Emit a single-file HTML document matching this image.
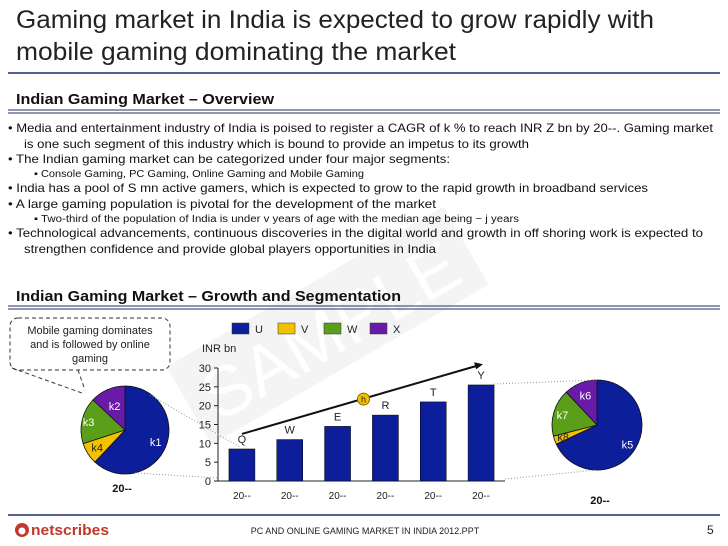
<!DOCTYPE html>
<html><head><meta charset="utf-8"><style>
body{margin:0;background:#fff}
svg{display:block;font-family:"Liberation Sans",sans-serif}
</style></head><body>
<svg width="728" height="546" viewBox="0 0 728 546">
<g transform="translate(330,330) rotate(-30)" opacity="0.06">
<rect x="-160" y="-50" width="320" height="90" fill="#555"/>
<text x="0" y="25" text-anchor="middle" font-size="70" fill="#fff">SAMPLE</text>
</g>
<text x="16" y="28" font-size="25" fill="#222" textLength="638" lengthAdjust="spacingAndGlyphs">Gaming market in India is expected to grow rapidly with</text>
<text x="16" y="60" font-size="25" fill="#222" textLength="440" lengthAdjust="spacingAndGlyphs">mobile gaming dominating the market</text>
<line x1="8" y1="73" x2="720" y2="73" stroke="#1f2f6b" stroke-width="1.5"/>
<text x="16" y="104" font-size="15" font-weight="bold" fill="#111" textLength="258" lengthAdjust="spacingAndGlyphs">Indian Gaming Market – Overview</text>
<line x1="8" y1="110" x2="720" y2="110" stroke="#1f2f6b" stroke-width="1"/>
<line x1="8" y1="113" x2="720" y2="113" stroke="#1f2f6b" stroke-width="1"/>
<g font-size="12" fill="#111">
<text x="8" y="132" textLength="705" lengthAdjust="spacingAndGlyphs">• Media and entertainment industry of India is poised to register a CAGR of k % to reach INR Z bn by 20--. Gaming market</text>
<text x="24" y="148" textLength="505" lengthAdjust="spacingAndGlyphs">is one such segment of this industry which is bound to provide an impetus to its growth</text>
<text x="8" y="163" textLength="442" lengthAdjust="spacingAndGlyphs">• The Indian gaming market can be categorized under four major segments:</text>
<text x="34" y="177" font-size="10" textLength="330" lengthAdjust="spacingAndGlyphs">▪ Console Gaming, PC Gaming, Online Gaming and Mobile Gaming</text>
<text x="8" y="192" textLength="640" lengthAdjust="spacingAndGlyphs">• India has a pool of S mn active gamers, which is expected to grow to the rapid growth in broadband services</text>
<text x="8" y="208" textLength="428" lengthAdjust="spacingAndGlyphs">• A large gaming population is pivotal for the development of the market</text>
<text x="34" y="222" font-size="10" textLength="485" lengthAdjust="spacingAndGlyphs">▪ Two-third of the population of India is under  v years of age with the median age being ~ j  years</text>
<text x="8" y="237" textLength="695" lengthAdjust="spacingAndGlyphs">• Technological advancements, continuous discoveries in the digital world and growth in off shoring work is expected to</text>
<text x="24" y="253" textLength="412" lengthAdjust="spacingAndGlyphs">strengthen confidence and provide global players opportunities in India</text>
</g>
<text x="16" y="301" font-size="15" font-weight="bold" fill="#111" textLength="385" lengthAdjust="spacingAndGlyphs">Indian Gaming Market – Growth and Segmentation</text>
<line x1="8" y1="306" x2="720" y2="306" stroke="#1f2f6b" stroke-width="1"/>
<line x1="8" y1="309" x2="720" y2="309" stroke="#1f2f6b" stroke-width="1"/>
<g>
<rect x="10" y="318" width="160" height="52" rx="8" fill="#fff" stroke="#333" stroke-dasharray="4,3"/>
<path d="M12 368 L82 393 M78 370 L85 390" stroke="#333" stroke-dasharray="4,3" fill="none"/>
<text x="90" y="334" font-size="11" text-anchor="middle" fill="#222">Mobile gaming dominates</text>
<text x="90" y="348" font-size="11" text-anchor="middle" fill="#222">and is followed by online</text>
<text x="90" y="362" font-size="11" text-anchor="middle" fill="#222">gaming</text>
</g>
<g id="legend" font-size="11" fill="#222"></g>
<g id="chart"></g>
<g id="pies"></g>
<line x1="8" y1="515" x2="720" y2="515" stroke="#1f2f6b" stroke-width="1.5"/>
<g>
<circle cx="22" cy="530" r="7" fill="#c0392b"/><circle cx="22" cy="531" r="3.5" fill="#fff"/>
<text x="31" y="535" font-size="15" font-weight="bold" fill="#c0392b" textLength="78" lengthAdjust="spacingAndGlyphs">netscribes</text>
</g>
<text x="365" y="534" font-size="9" text-anchor="middle" fill="#222">PC AND ONLINE GAMING MARKET IN INDIA 2012.PPT</text>
<text x="707" y="534" font-size="12" fill="#222">5</text>
</svg>
<script>
const categories = ["20--","20--","20--","20--","20--","20--"];
const barLabels = ["Q","W","E","R","T","Y"];
const values = [8.5, 11, 14.5, 17.5, 21, 25.5];
const yTicks = [0,5,10,15,20,25,30];
const legendLabels = ["U","V","W","X"];
const pieLeft = [62, 8, 17, 13];
const pieLeftLabels = ["k1","k4","k3","k2"];
const pieRight = [68, 3, 17, 12];
const pieRightLabels = ["k5","k8","k7","k6"];
const colors = ["#0d1e9a","#f2c200","#5a9e1a","#6a1aa8"];
const NS="http://www.w3.org/2000/svg";
function mk(t,a,p){const e=document.createElementNS(NS,t);for(const k in a)e.setAttribute(k,a[k]);p.appendChild(e);return e;}
const chart=document.getElementById('chart');
const x0=218,x1=505,yb=481,yt=368,ymax=30;
const y=v=>yb-(v/ymax)*(yb-yt);
const step=(x1-x0)/categories.length;
const xc=i=>x0+step*(i+0.5);
mk('line',{x1:x0,y1:yt,x2:x0,y2:yb,stroke:'#222'},chart);
mk('line',{x1:x0,y1:yb,x2:x1,y2:yb,stroke:'#222'},chart);
const t=mk('text',{x:202,y:352,'font-size':11,fill:'#222'},chart);t.textContent='INR bn';
yTicks.forEach(v=>{
  mk('line',{x1:x0-4,y1:y(v),x2:x0,y2:y(v),stroke:'#222'},chart);
  const tx=mk('text',{x:x0-7,y:y(v)+4,'font-size':11,'text-anchor':'end',fill:'#222'},chart);
  
  
  tx.textContent=v;
});
values.forEach((v,i)=>{
  const r=mk('rect',{x:xc(i)-13,y:y(v),width:26,height:yb-y(v),fill:colors[0],stroke:'#000','stroke-width':0.5},chart);
  
  
  const lb=mk('text',{x:xc(i),y:y(v)-6,'font-size':11,'text-anchor':'middle',fill:'#222'},chart);
  
  
  lb.textContent=barLabels[i];
  const c=mk('text',{x:xc(i),y:499,'font-size':10,'text-anchor':'middle',fill:'#222'},chart);
  
  
  c.textContent=categories[i];
});
const ax1=xc(0),ay1=y(values[0]+4),ax2=xc(values.length-1)+2,ay2=y(values[values.length-1]+5.5);
const ar=mk('line',{x1:ax1,y1:ay1,x2:ax2-6,y2:ay2+1.5,stroke:'#111','stroke-width':2},chart);


mk('polygon',{points:`${ax2},${ay2} ${ax2-9},${ay2-2} ${ax2-7},${ay2+5}`,fill:'#111'},chart);
const hx=(ax1+ax2)/2+1,hy=(ay1+ay2)/2;
const hc=mk('circle',{cx:hx,cy:hy,r:6,fill:'#f2c200',stroke:'#8a6a00'},chart);


const ht=mk('text',{x:hx,y:hy+3.5,'font-size':9,'text-anchor':'middle',fill:'#222'},chart);ht.textContent='h';
const lg=document.getElementById('legend');
legendLabels.forEach((s,i)=>{
  const lx=232+i*46;
  const r=mk('rect',{x:lx,y:323,width:17,height:11,fill:colors[i],stroke:'#333','stroke-width':0.5},lg);
  
  
  const tx=mk('text',{x:lx+23,y:333},lg);tx.textContent=s;
});
const pies=document.getElementById('pies');
function pie(cx,cy,r,vals,labels,name,labelPos){
  const g=mk('g',{},pies);
  
  
  const tot=vals.reduce((a,b)=>a+b,0);let a=0;
  vals.forEach((v,i)=>{
    const a0=a/tot*2*Math.PI,a1=(a+v)/tot*2*Math.PI;a+=v;
    const p0=[cx+r*Math.sin(a0),cy-r*Math.cos(a0)],p1=[cx+r*Math.sin(a1),cy-r*Math.cos(a1)];
    const large=(a1-a0)>Math.PI?1:0;
    const s=mk('path',{d:`M${cx},${cy} L${p0[0]},${p0[1]} A${r},${r} 0 ${large} 1 ${p1[0]},${p1[1]} Z`,fill:colors[i],stroke:'#111','stroke-width':0.8},g);
    
    
    const am=(a0+a1)/2,lr=r*labelPos[i];
    const tx=mk('text',{x:cx+lr*Math.sin(am),y:cy-lr*Math.cos(am)+4,'font-size':11,'text-anchor':'middle',fill:i==1?'#222':'#fff'},g);
    tx.textContent=labels[i];
  });
}
pie(125,430,44,pieLeft,pieLeftLabels,'pie-left',[0.75,0.75,0.85,0.6]);
pie(597,425,45,pieRight,pieRightLabels,'pie-right',[0.8,0.8,0.8,0.7]);
mk('line',{x1:150,y1:395,x2:240,y2:447,stroke:'#999','stroke-dasharray':'1,2'},pies);
mk('line',{x1:135,y1:473,x2:218,y2:478,stroke:'#999','stroke-dasharray':'1,2'},pies);
mk('line',{x1:494,y1:384,x2:597,y2:380,stroke:'#999','stroke-dasharray':'1,2'},pies);
mk('line',{x1:505,y1:479,x2:597,y2:470,stroke:'#999','stroke-dasharray':'1,2'},pies);
const l1=mk('text',{x:122,y:492,'font-size':11,'font-weight':'bold','text-anchor':'middle',fill:'#111'},pies);l1.textContent='20--';
const l2=mk('text',{x:600,y:504,'font-size':11,'font-weight':'bold','text-anchor':'middle',fill:'#111'},pies);l2.textContent='20--';
</script>
</body></html>
